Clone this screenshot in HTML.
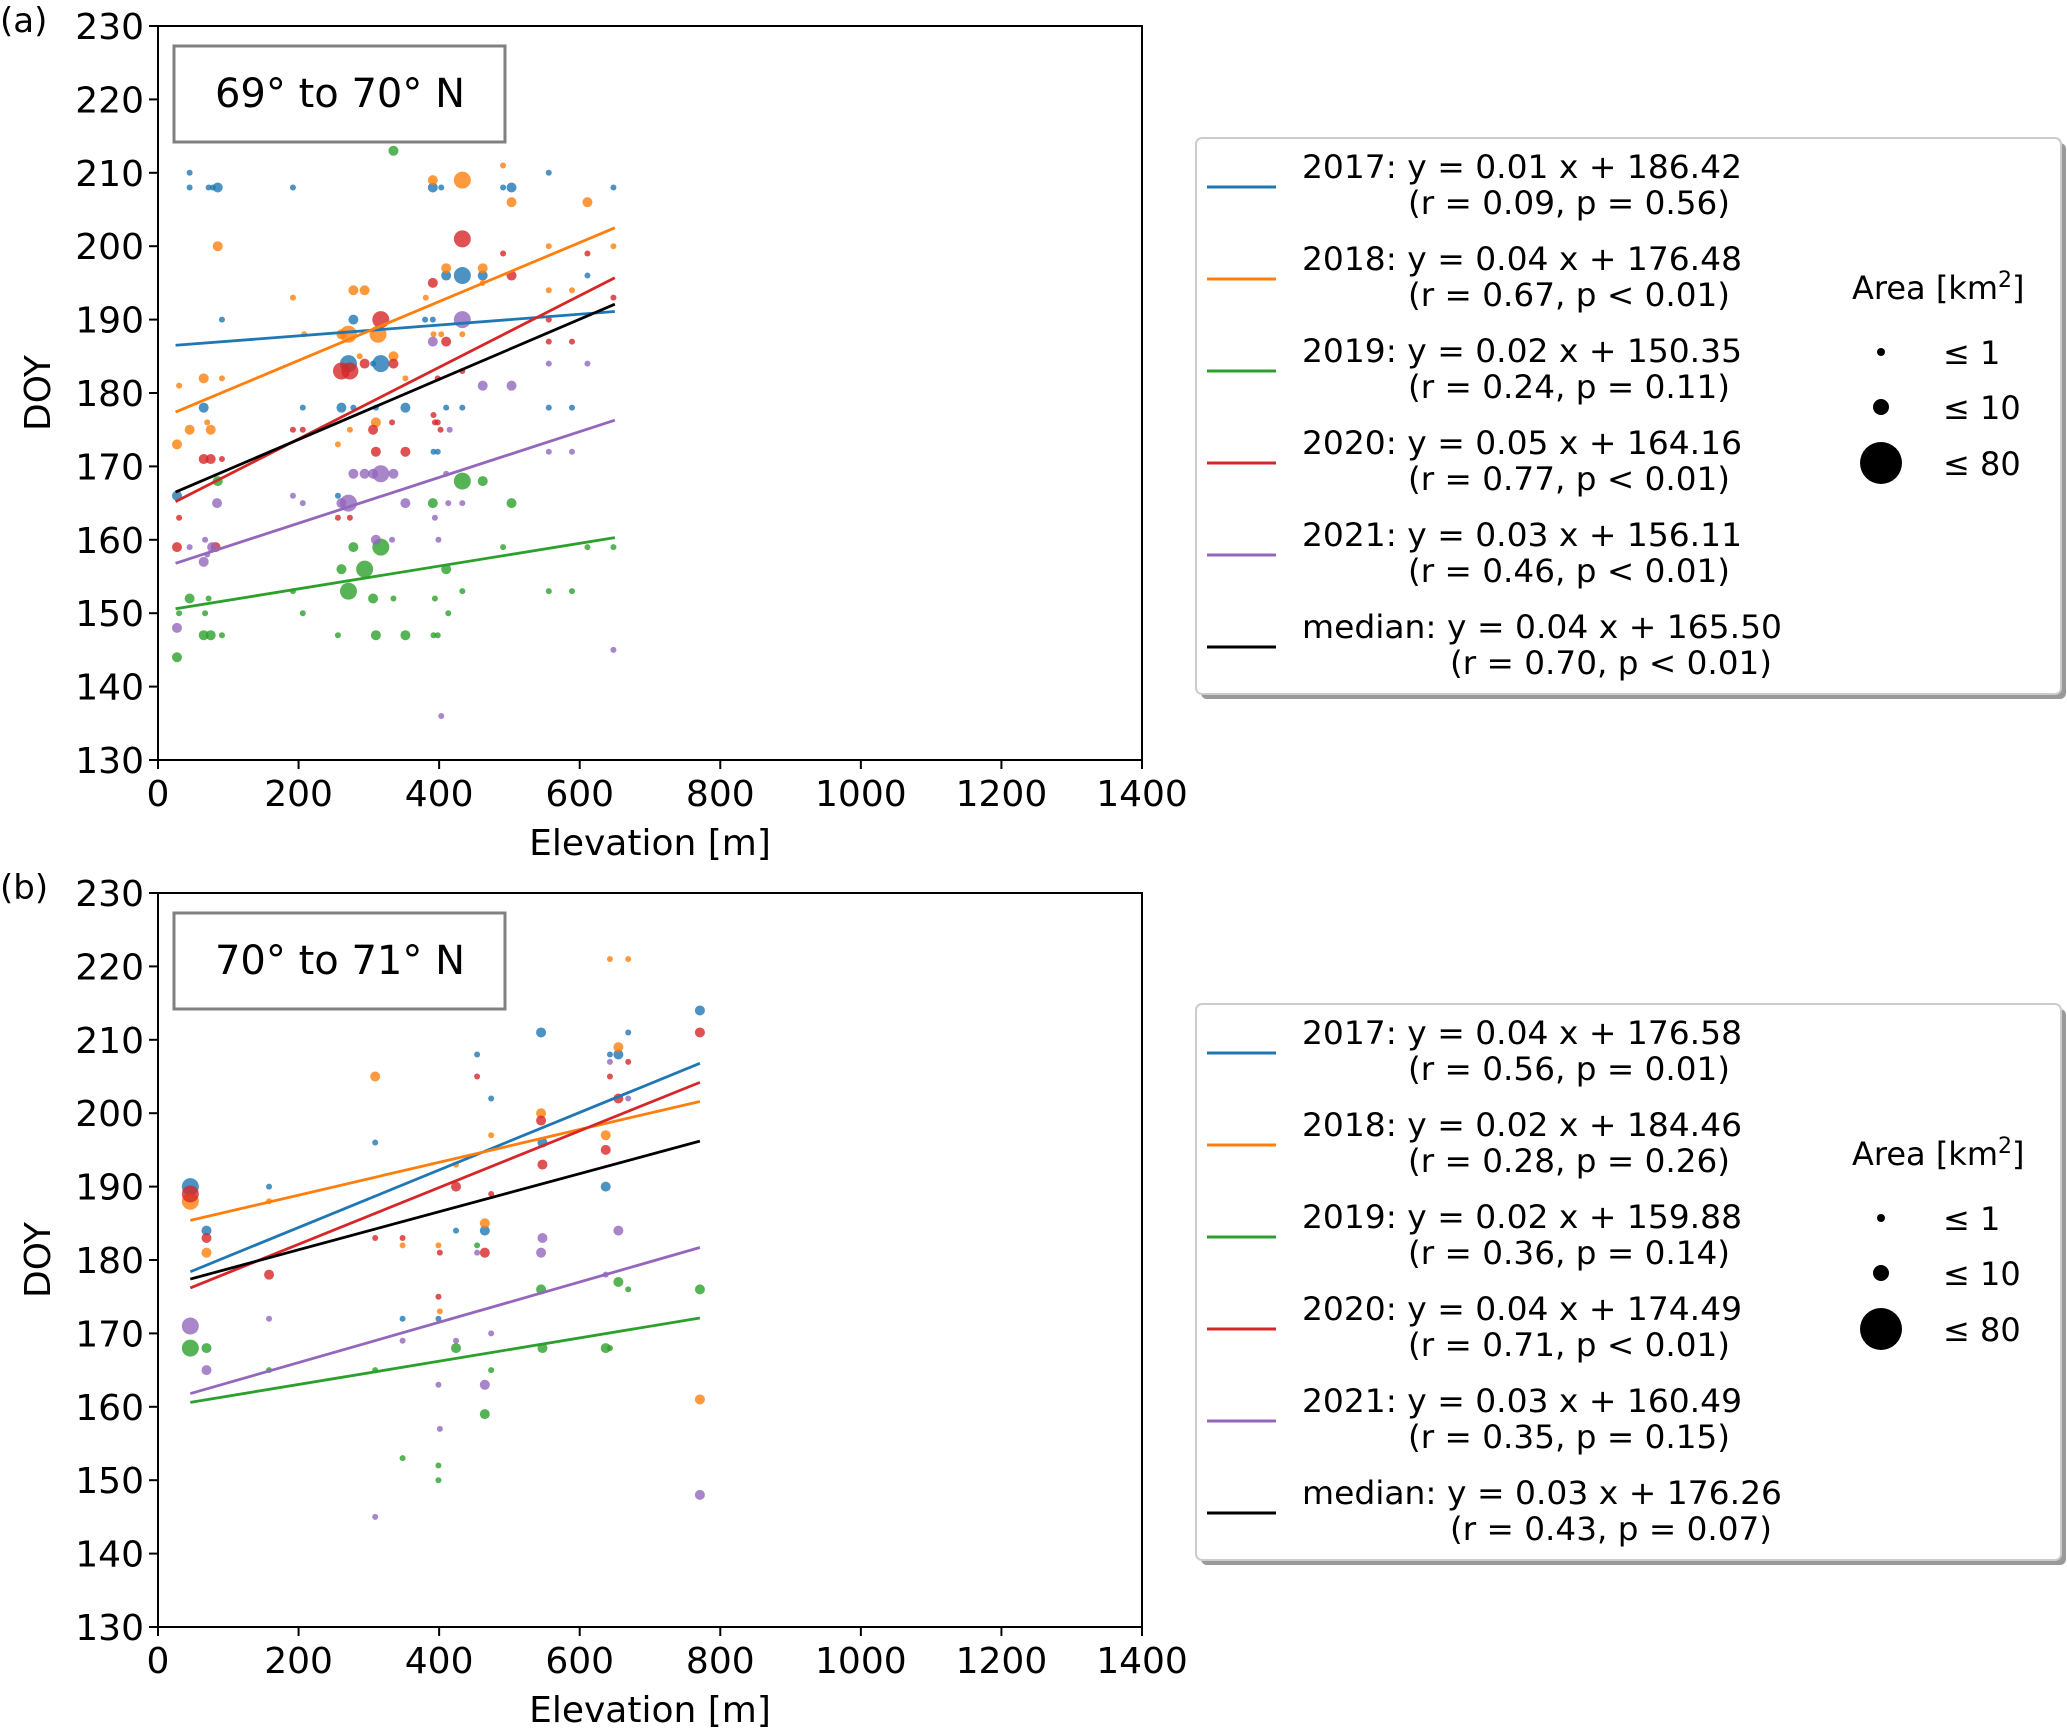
<!DOCTYPE html>
<html><head><meta charset="utf-8">
<style>
html,body{margin:0;padding:0;background:#fff;}
svg{display:block;font-family:"DejaVu Sans","Liberation Sans",sans-serif;}
</style></head>
<body>
<svg id="chart" width="2067" height="1730" viewBox="0 0 2067 1730" xmlns="http://www.w3.org/2000/svg"></svg>
<script>
// ---------- DATA ----------
const years = ["2017","2018","2019","2020","2021"];
const colors = ["#1f77b4","#ff7f0e","#2ca02c","#d62728","#9467bd"];
const xTicks = [0,200,400,600,800,1000,1200,1400];
const yTicks = [130,140,150,160,170,180,190,200,210,220,230];
// sizes: 0 = <=1, 1 = <=10, 2 = <=80
const a2017 = [[45,210,0],[45,208,0],[72,208,0],[78,208,0],[85,208,1],[192,208,0],[391,208,1],[403,208,0],[491,208,0],[503,208,1],[556,210,0],[648,208,0],[91,190,0],[278,190,1],[380,190,0],[391,190,0],[410,196,1],[433,196,2],[462,196,1],[611,196,0],[271,184,2],[317,184,2],[306,184,0],[65,178,1],[206,178,0],[261,178,1],[278,178,0],[310,178,0],[352,178,1],[410,178,0],[433,178,0],[556,178,0],[589,178,0],[392,172,0],[398,172,0],[27,166,1],[256,166,0]];
const a2018 = [[391,209,1],[433,209,2],[491,211,0],[503,206,1],[611,206,1],[85,200,1],[556,200,0],[648,200,0],[278,194,1],[294,194,1],[192,193,0],[381,193,0],[410,197,1],[462,197,1],[462,195,0],[556,194,0],[589,194,0],[271,188,2],[261,188,1],[313,188,2],[392,188,0],[403,188,0],[433,188,0],[208,188,0],[335,185,1],[30,181,0],[65,182,1],[91,182,0],[352,182,0],[27,173,1],[45,175,1],[75,175,1],[70,176,0],[256,173,0],[273,175,0],[310,176,1],[287,185,0]];
const a2019 = [[335,213,1],[85,168,1],[433,168,2],[462,168,1],[503,165,1],[391,165,1],[278,159,1],[317,159,2],[261,156,1],[294,156,2],[410,156,1],[271,153,2],[192,153,0],[433,153,0],[556,153,0],[589,153,0],[491,159,0],[611,159,0],[648,159,0],[45,152,1],[72,152,0],[306,152,1],[335,152,0],[394,152,0],[30,150,0],[67,150,0],[206,150,0],[413,150,0],[65,147,1],[75,147,1],[91,147,0],[256,147,0],[310,147,1],[352,147,1],[392,147,0],[398,147,0],[27,144,1]];
const a2020 = [[433,201,2],[491,199,0],[611,199,0],[503,196,1],[391,195,1],[317,190,2],[556,190,0],[648,193,0],[410,187,1],[556,187,0],[589,187,0],[261,183,2],[273,183,2],[294,184,1],[335,184,1],[433,183,0],[398,182,0],[192,175,0],[206,175,0],[306,175,1],[333,176,0],[392,177,0],[394,176,0],[398,176,0],[402,175,0],[65,171,1],[75,171,1],[91,171,0],[310,172,1],[352,172,1],[30,163,0],[256,163,0],[273,163,0],[27,159,1],[82,159,1]];
const a2021 = [[433,190,2],[391,187,1],[556,184,0],[611,184,0],[462,181,1],[503,181,1],[556,172,0],[589,172,0],[415,175,0],[278,169,1],[294,169,1],[306,169,1],[317,169,2],[335,169,1],[410,169,0],[84,165,1],[192,166,0],[206,165,0],[261,165,1],[271,165,2],[352,165,1],[413,165,0],[433,165,0],[394,163,0],[310,160,1],[333,160,0],[399,160,0],[45,159,0],[77,159,1],[67,160,0],[65,157,1],[70,158,0],[27,148,1],[648,145,0],[403,136,0]];
const b2017 = [[46,190,2],[69,184,1],[158,190,0],[309,196,0],[348,172,0],[399,172,0],[424,184,0],[454,208,0],[465,184,1],[474,202,0],[545,211,1],[547,196,1],[637,190,1],[643,208,0],[655,208,1],[669,211,0],[771,214,1]];
const b2018 = [[46,188,2],[69,181,1],[158,188,0],[309,205,1],[348,182,0],[399,182,0],[401,173,0],[424,193,0],[454,215,0],[465,185,1],[474,197,0],[545,200,1],[637,197,1],[643,221,0],[669,221,0],[655,209,1],[771,161,1]];
const b2019 = [[46,168,2],[69,168,1],[158,165,0],[309,165,0],[348,153,0],[399,152,0],[399,150,0],[424,168,1],[454,182,0],[465,159,1],[474,165,0],[545,176,1],[547,168,1],[637,168,1],[643,168,0],[655,177,1],[669,176,0],[771,176,1]];
const b2020 = [[46,189,2],[69,183,1],[158,178,1],[309,183,0],[348,183,0],[401,181,0],[399,175,0],[424,190,1],[454,205,0],[465,181,1],[474,189,0],[545,199,1],[547,193,1],[637,195,1],[643,205,0],[655,202,1],[669,207,0],[771,211,1]];
const b2021 = [[46,171,2],[69,165,1],[158,172,0],[309,145,0],[348,169,0],[399,163,0],[401,157,0],[424,169,0],[454,181,0],[465,163,1],[474,170,0],[545,181,1],[547,183,1],[637,178,0],[643,207,0],[655,184,1],[669,202,0],[771,148,1]];
// regression line endpoints (DOY at start / end elevation), order: 2017..2021, median
const aLineX = [25,650];
const aLineStart = [186.5,177.4,150.6,165.2,156.8,166.5];
const aLineEnd = [191.1,202.5,160.3,195.7,176.3,192.1];
const bLineX = [46,771];
const bLineStart = [178.4,185.4,160.6,176.2,161.8,177.4];
const bLineEnd = [206.8,201.6,172.1,204.2,181.7,196.2];
const aLegendL1 = ["2017: y = 0.01 x + 186.42","2018: y = 0.04 x + 176.48","2019: y = 0.02 x + 150.35","2020: y = 0.05 x + 164.16","2021: y = 0.03 x + 156.11","median: y = 0.04 x + 165.50"];
const aLegendL2 = ["(r = 0.09, p = 0.56)","(r = 0.67, p < 0.01)","(r = 0.24, p = 0.11)","(r = 0.77, p < 0.01)","(r = 0.46, p < 0.01)","(r = 0.70, p < 0.01)"];
const bLegendL1 = ["2017: y = 0.04 x + 176.58","2018: y = 0.02 x + 184.46","2019: y = 0.02 x + 159.88","2020: y = 0.04 x + 174.49","2021: y = 0.03 x + 160.49","median: y = 0.03 x + 176.26"];
const bLegendL2 = ["(r = 0.56, p = 0.01)","(r = 0.28, p = 0.26)","(r = 0.36, p = 0.14)","(r = 0.71, p < 0.01)","(r = 0.35, p = 0.15)","(r = 0.43, p = 0.07)"];
const sizeLabels = ["≤ 1","≤ 10","≤ 80"];

// ---------- DRAWING ----------
const NS = "http://www.w3.org/2000/svg";
const svg = document.getElementById("chart");
function mk(tag, attrs, parent){
  const e = document.createElementNS(NS, tag);
  for (const k in attrs) e.setAttribute(k, attrs[k]);
  (parent||svg).appendChild(e);
  return e;
}
const markerR = [3,5,8.5];

function panel(cfg){
  const L=158, R=1142, T=cfg.top, B=cfg.top+734;
  const sx = v => L + (v-0)/(1400)*(R-L);
  const sy = v => B - (v-130)/100*(B-T);
  const g = mk("g",{});
  
  
  const pl = mk("text",{x:0,y:T+6,"font-size":34,fill:"#000"},g);
  pl.textContent = cfg.letter;
  
  
  cfg.series.forEach((pts,si)=>{
    const sg = mk("g",{},g);
    
    
    pts.forEach(p=>{
      const c = mk("circle",{cx:sx(p[0]),cy:sy(p[1]),r:markerR[p[2]],fill:colors[si],"fill-opacity":0.8},sg);
      
      
    });
  });
  const lc = colors.concat(["#000"]);
  for (let i=0;i<6;i++){
    const ln = mk("line",{x1:sx(cfg.lineX[0]),y1:sy(cfg.lineStart[i]),x2:sx(cfg.lineX[1]),y2:sy(cfg.lineEnd[i]),stroke:lc[i],"stroke-width":2.8},g);
    
    
  }
  const fr = mk("rect",{x:L,y:T,width:R-L,height:B-T,fill:"none",stroke:"#000","stroke-width":2},g);
  
  
  xTicks.forEach(t=>{
    mk("line",{x1:sx(t),y1:B,x2:sx(t),y2:B+9,stroke:"#000","stroke-width":2},g);
    const tx = mk("text",{x:sx(t),y:B+46,"font-size":36,"text-anchor":"middle",fill:"#000"},g);
    tx.textContent = t;
    
    
  });
  yTicks.forEach(t=>{
    mk("line",{x1:L-9,y1:sy(t),x2:L,y2:sy(t),stroke:"#000","stroke-width":2},g);
    const ty = mk("text",{x:L-14,y:sy(t)+13,"font-size":36,"text-anchor":"end",fill:"#000"},g);
    ty.textContent = t;
    
    
  });
  const xt = mk("text",{x:650,y:B+95,"font-size":36,"text-anchor":"middle",fill:"#000"},g);
  xt.textContent = "Elevation [m]";
  
  
  const yt = mk("text",{x:0,y:0,"font-size":36,"text-anchor":"middle",fill:"#000",transform:`translate(50,${(T+B)/2}) rotate(-90)`},g);
  yt.textContent = "DOY";
  
  
  const rb = mk("rect",{x:174,y:T+20,width:331,height:96,fill:"#fff",stroke:"#808080","stroke-width":3},g);
  
  
  const rt = mk("text",{x:340,y:T+81,"font-size":40,"text-anchor":"middle",fill:"#000"},g);
  rt.textContent = cfg.region;
  
  
  const LT = cfg.legTop;
  const lg = mk("g",{},g);
  
  
  mk("rect",{x:1201,y:LT+5,width:865,height:556,rx:6,fill:"#999"},lg);
  mk("rect",{x:1196,y:LT,width:865,height:556,rx:6,fill:"#fff",stroke:"#ccc","stroke-width":2},lg);
  for (let i=0;i<6;i++){
    const yy = LT+49+i*92;
    const sl = mk("line",{x1:1207,y1:yy,x2:1276,y2:yy,stroke:lc[i],"stroke-width":3},lg);
    
    
    const t1 = mk("text",{x:1302,y:yy-9,"font-size":32,fill:"#000",textLength:i<5?440:480,lengthAdjust:"spacingAndGlyphs"},lg);
    t1.textContent = cfg.leg1[i];
    
    
    const t2 = mk("text",{x:i<5?1408:1450,y:yy+27,"font-size":32,fill:"#000",textLength:322,lengthAdjust:"spacingAndGlyphs"},lg);
    t2.textContent = cfg.leg2[i];
    
    
  }
  const at = mk("text",{x:1852,y:LT+161,"font-size":32,fill:"#000"},lg);
  at.innerHTML = 'Area [km<tspan dy="-12" font-size="22">2</tspan><tspan dy="12">]</tspan>';
  
  
  const lr = [4,8,21], ly=[214,269,325];
  for (let i=0;i<3;i++){
    const c = mk("circle",{cx:1881,cy:LT+ly[i],r:lr[i],fill:"#000"},lg);
    
    
    const st = mk("text",{x:1943,y:LT+ly[i]+12,"font-size":32,fill:"#000"},lg);
    st.textContent = sizeLabels[i];
    
    
  }
}
panel({id:"a",letter:"(a)",top:26,region:"69° to 70° N",series:[a2017,a2018,a2019,a2020,a2021],lineX:aLineX,lineStart:aLineStart,lineEnd:aLineEnd,legTop:138,leg1:aLegendL1,leg2:aLegendL2});
panel({id:"b",letter:"(b)",top:893,region:"70° to 71° N",series:[b2017,b2018,b2019,b2020,b2021],lineX:bLineX,lineStart:bLineStart,lineEnd:bLineEnd,legTop:1004,leg1:bLegendL1,leg2:bLegendL2});
</script>
</body></html>
